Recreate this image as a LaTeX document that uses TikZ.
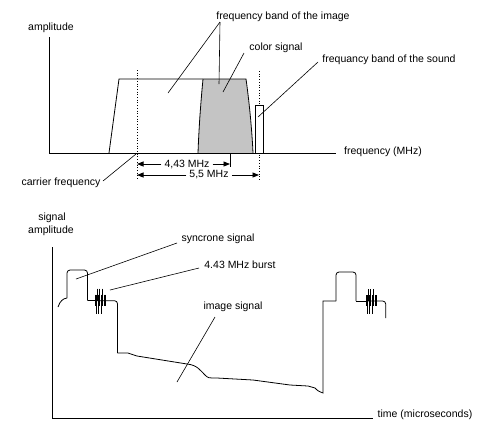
\documentclass[tikz,border=0pt]{standalone}
\usepackage{fontspec}
\setmainfont{Liberation Sans}
\usetikzlibrary{patterns.meta,arrows.meta}
\newcommand\myburst[1]{%
  \begin{scope}[shift={(#1)}]
    \foreach \u in {2.3,4.8,7.3} \draw[line width=0.7pt] (\u,-12) -- (\u,0);
    \foreach \u in {1.3,3.8,6.3} \draw[line width=0.7pt] (\u,3) -- (\u,13);
    \foreach \u in {0,1.5,...,10.6} \draw[line width=0.5pt] (\u,-6) -- (\u,5);
  \end{scope}}
\begin{document}
\begin{tikzpicture}[x=1pt,y=-1pt,
  lbl/.style={font=\fontsize{10.5}{12}\selectfont, inner sep=0pt},
  ln/.style={line width=0.8pt},
  lead/.style={line width=0.6pt},
  dim/.style={line width=0.8pt,-{Triangle[length=6.5pt,width=5pt]}},
  dotln/.style={dotted, line width=0.7pt},
]
\useasboundingbox (0,0) rectangle (494,440);
% ---------------- upper diagram ----------------
\node[lbl] (ampl) at (51,28) {amplitude};
\node[lbl] (freq) at (383,152) {frequency (MHz)};
\node[lbl] (carrier) at (61,183) {carrier frequency};
\node[lbl] (bandimg) at (283,17) {frequency band of the image};
\node[lbl] (color) at (276,48) {color signal};
\node[lbl] (sound) at (389,60) {frequancy band of the sound};
\node[lbl] (f443) at (187,164) {4,43 MHz};
\node[lbl] (f55) at (209,175) {5,5 MHz};

\coordinate (yt1) at (49,37);
\coordinate (o1) at (49,153);
\coordinate (xe1) at (336,153);

% colour signal (dotted fill)
\fill[pattern={Dots[distance=2pt,radius=0.55pt]}]
  (203,79) -- (246,79) .. controls (249,100) and (252,130) .. (253,153)
  -- (198,153) .. controls (199,125) and (201,100) .. (203,79) -- cycle;
\draw[ln] (203,79) .. controls (201,100) and (199,125) .. (198,153);
% image band outline
\draw[ln] (109,153) -- (119,79) -- (246,79) .. controls (249,100) and (252,130) .. (253,153);
% dotted reference lines
\coordinate (cf1) at (137,70);
\coordinate (cf2) at (137,180);
\coordinate (sf1) at (259,71);
\coordinate (sf2) at (259,180);
\draw[dotln] (cf1) -- (cf2);
\draw[dotln] (sf1) -- (sf2);
% sound band
\draw[ln,fill=white] (255,105) rectangle (263,153);
% axes
\draw[ln] (yt1) -- (o1) -- (xe1);
% tick at 4.43
\coordinate (tk1) at (230,153);
\coordinate (tk2) at (230,167);
\draw[ln] (tk1) -- (tk2);
% dimension arrows
\coordinate (a1) at (137,164);
\coordinate (a2) at (230,164);
\coordinate (b1) at (137,175);
\coordinate (b2) at (259,175);
\draw[dim] ([xshift=-3pt]f443.west) -- (a1);
\draw[dim] ([xshift=3pt]f443.east) -- (a2);
\draw[dim] ([xshift=-3pt]f55.west) -- (b1);
\draw[dim] ([xshift=3pt]f55.east) -- (b2);
% leaders
\coordinate (l1s) at (220,22);
\coordinate (l1a) at (168,93);
\coordinate (l1b) at (219,84);
\coordinate (l2s) at (244,53);
\coordinate (l2e) at (223,92);
\coordinate (l3s) at (318,62);
\coordinate (l3e) at (258,117);
\coordinate (l4s) at (103,181);
\coordinate (l4e) at (136,154);
\draw[lead] (l1s) -- (l1a);
\draw[lead] (l1s) -- (l1b);
\draw[lead] (l2s) -- (l2e);
\draw[lead] (l3s) -- (l3e);
\draw[lead] (l4s) -- (l4e);

% ---------------- lower diagram ----------------
\node[lbl] (sig1) at (52,218) {signal};
\node[lbl] (sig2) at (51,231) {amplitude};
\node[lbl] (sync) at (218,239) {syncrone signal};
\node[lbl] (burst) at (240,265) {4.43 MHz burst};
\node[lbl] (imgsig) at (233,307) {image signal};
\node[lbl] (time) at (425,415) {time (microseconds)};

\coordinate (yt2) at (52.5,247);
\coordinate (o2) at (52.5,418);
\coordinate (xe2) at (373,418);
\draw[ln] (yt2) -- (o2) -- (xe2);

% signal
\draw[ln] (58,307) .. controls (60,301) and (63,298.5) .. (67,298);
\draw[ln,rounded corners=3pt] (67,298) -- (67,270) -- (87.5,270) -- (87.5,300.7);
\draw[ln] (87.5,300.7) -- (95,300.7);
\myburst{95,300.7}
\draw[ln,rounded corners=3pt] (95,300.7) -- (117.5,300.7) -- (117.5,353);
\draw[ln] (117.5,353) -- (128,353) -- (137,356) -- (187,364)
  .. controls (197,365) and (200,370) .. (205,375)
  .. controls (208,378) .. (217,378) -- (253,380) -- (290,385) -- (308,386)
  -- (315,388) .. controls (318,391) .. (323,393) -- (323,301) -- (336,301);
\draw[ln,rounded corners=3pt] (336,301) -- (336,272) -- (356,272) -- (356,301);
\draw[ln] (356,301) -- (366,301);
\myburst{366,301}
\draw[ln,rounded corners=3pt] (366,301) -- (385.7,301) -- (385.7,318);

% leaders
\coordinate (m1s) at (177,243);
\coordinate (m1e) at (76,279);
\coordinate (m2s) at (199,268);
\coordinate (m2e) at (110,290);
\coordinate (m3s) at (215,317);
\coordinate (m3e) at (177,382);
\draw[lead] (m1s) -- (m1e);
\draw[lead] (m2s) -- (m2e);
\draw[lead] (m3s) -- (m3e);
\end{tikzpicture}
\end{document}
